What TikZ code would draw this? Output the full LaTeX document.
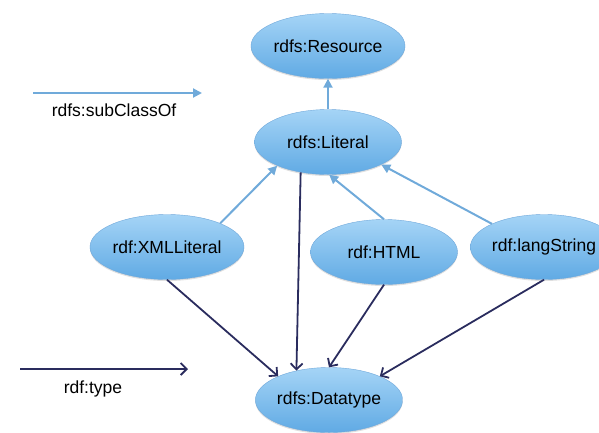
\documentclass[tikz,border=0pt]{standalone}
\usepackage{fontspec}
\setmainfont{Liberation Sans}
\usepackage{tikz}
\usetikzlibrary{shapes.geometric, arrows.meta, shadows}
\definecolor{ellTop}{RGB}{165, 212, 246}
\definecolor{ellBot}{RGB}{96, 170, 228}
\definecolor{ellLine}{RGB}{112, 168, 218}
\definecolor{subBlue}{RGB}{112, 170, 218}
\definecolor{typeNavy}{RGB}{42, 44, 94}

\begin{document}
\begin{tikzpicture}[
            x=1pt, y=-1pt,
            font=\fontsize{17.5}{21}\selectfont,
            % Styles
            cls/.style={
                ellipse, draw=ellLine, thin, top color=ellTop, bottom color=ellBot,
                minimum width=147pt, minimum height=65pt, inner sep=0pt,
                drop shadow={opacity=0.25, shadow xshift=0pt, shadow yshift=-1.5pt}
            },
            subcls/.style={
                draw=subBlue, line width=2pt, -{Triangle[length=9pt, width=9pt]}
            },
            rdftype/.style={
                draw=typeNavy, line width=1.8pt, -{Straight Barb[length=6pt, width=12pt]}
            },
            legend/.style={inner sep=0pt}
        ]
            \useasboundingbox (0,0) rectangle (599,432);

            % --- Nodes ---

            % Top classes
            \node[cls] (res) at (328,46) {rdfs:Resource};
            \node[cls] (lit) at (328,142) {rdfs:Literal};

            % Middle row
            \node[cls] (xml) at (167,247) {rdf:XMLLiteral};
            \node[cls] (html) at (384,252) {rdf:HTML};
            \node[cls] (lang) at (544,247) {rdf:langString};

            % Bottom
            \node[cls] (dtype) at (329,400) {rdfs:Datatype};

            % --- Legend ---
            \coordinate (subA) at (33,93);
            \coordinate (subB) at (202,93);
            \node[legend] (subLbl) at (114,110) {rdfs:subClassOf};
            \draw[subcls] (subA) -- (subB);

            \coordinate (typA) at (20,369);
            \coordinate (typB) at (188,369);
            \node[legend] (typLbl) at (93,389) {rdf:type};
            \draw[rdftype] (typA) -- (typB);

            % --- subClassOf arrows ---
            \draw[subcls] (lit.north) -- (res.south);
            \draw[subcls] (xml.24) -- (lit.205);
            \draw[subcls] (html.north) -- (lit.-88);
            \draw[subcls] (lang.156) -- (lit.-23);

            % --- type arrows ---
            \draw[rdftype] (lit.228) -- (dtype.138);
            \draw[rdftype] (xml.south) -- (dtype.155);
            \draw[rdftype] (html.south) -- (dtype.north);
            \draw[rdftype] (lang.south) -- (dtype.25);

        \end{tikzpicture}
\end{document}
